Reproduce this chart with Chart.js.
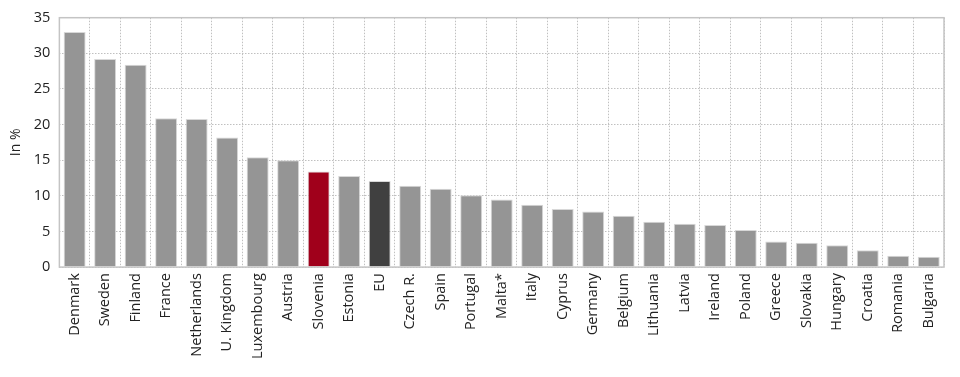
<!DOCTYPE html>
<html>
<head>
<meta charset="utf-8">
<script src="https://cdn.jsdelivr.net/npm/chart.js@4"></script>
<style>
  html, body { margin: 0; padding: 0; background: #fff; }
  #wrap { width: 960px; height: 377px; }
</style>
</head>
<body>
<div id="wrap"><canvas id="chart"></canvas></div>
<script>
const countries = ['Denmark', 'Sweden', 'Finland', 'France', 'Netherlands', 'U. Kingdom', 'Luxembourg', 'Austria', 'Slovenia', 'Estonia', 'EU', 'Czech R.', 'Spain', 'Portugal', 'Malta*', 'Italy', 'Cyprus', 'Germany', 'Belgium', 'Lithuania', 'Latvia', 'Ireland', 'Poland', 'Greece', 'Slovakia', 'Hungary', 'Croatia', 'Romania', 'Bulgaria'];
const shares = [33.0, 29.2, 28.4, 20.9, 20.8, 18.2, 15.4, 15.0, 13.4, 12.8, 12.1, 11.4, 11.0, 10.1, 9.5, 8.75, 8.15, 7.8, 7.2, 6.35, 6.1, 5.9, 5.2, 3.6, 3.4, 3.05, 2.35, 1.6, 1.45];
const yTicks = [0, 5, 10, 15, 20, 25, 30, 35];

// colour per bar: Slovenia red, EU dark grey
const barColors = countries.map(c => c === 'Slovenia' ? '#a0001b' : (c === 'EU' ? '#404040' : '#959595'));

// outline of the plot area
const frame = {
    id: 'frame',
    afterDraw(chart) {
        const { ctx, chartArea: a } = chart;
        ctx.save();
        ctx.strokeStyle = '#c4c4c4';
        ctx.lineWidth = 1.5;
        ctx.strokeRect(a.left, a.top, a.right - a.left, a.bottom - a.top);
        ctx.restore();
    }
};

Chart.defaults.font.family = "'Open Sans', sans-serif";
Chart.defaults.color = '#222';

new Chart(document.querySelector('#chart').getContext('2d'), {
    type: 'bar',
    data: {
        labels: countries,
        datasets: [{
            data: shares,
            backgroundColor: barColors,
            borderColor: '#d8d8d8',
            borderWidth: 1,
            barPercentage: 0.72,
            categoryPercentage: 1
        }]
    },
    options: {
        responsive: true,
        maintainAspectRatio: false,
        animation: false,
        layout: { padding: { left: 8, right: 16, top: 0, bottom: 12 } },
        plugins: { legend: { display: false }, tooltip: { enabled: false } },
        scales: {
            x: {
                grid: { color: '#c0c0c0', drawTicks: false },
                border: { display: false, dash: [1.5, 1.5] },
                ticks: { minRotation: 90, maxRotation: 90, padding: 6, font: { size: 14.5 }, autoSkip: false }
            },
            y: {
                min: 0,
                max: 35,
                afterBuildTicks: axis => { axis.ticks = yTicks.map(v => ({ value: v })); },
                grid: { color: '#c0c0c0', drawTicks: false },
                border: { display: false, dash: [1.5, 1.5] },
                ticks: { padding: 9, font: { size: 14.5 } },
                title: { display: true, text: 'In %', font: { size: 14 }, padding: 0 }
            }
        }
    },
    plugins: [frame]
});
</script>
</body>
</html>
